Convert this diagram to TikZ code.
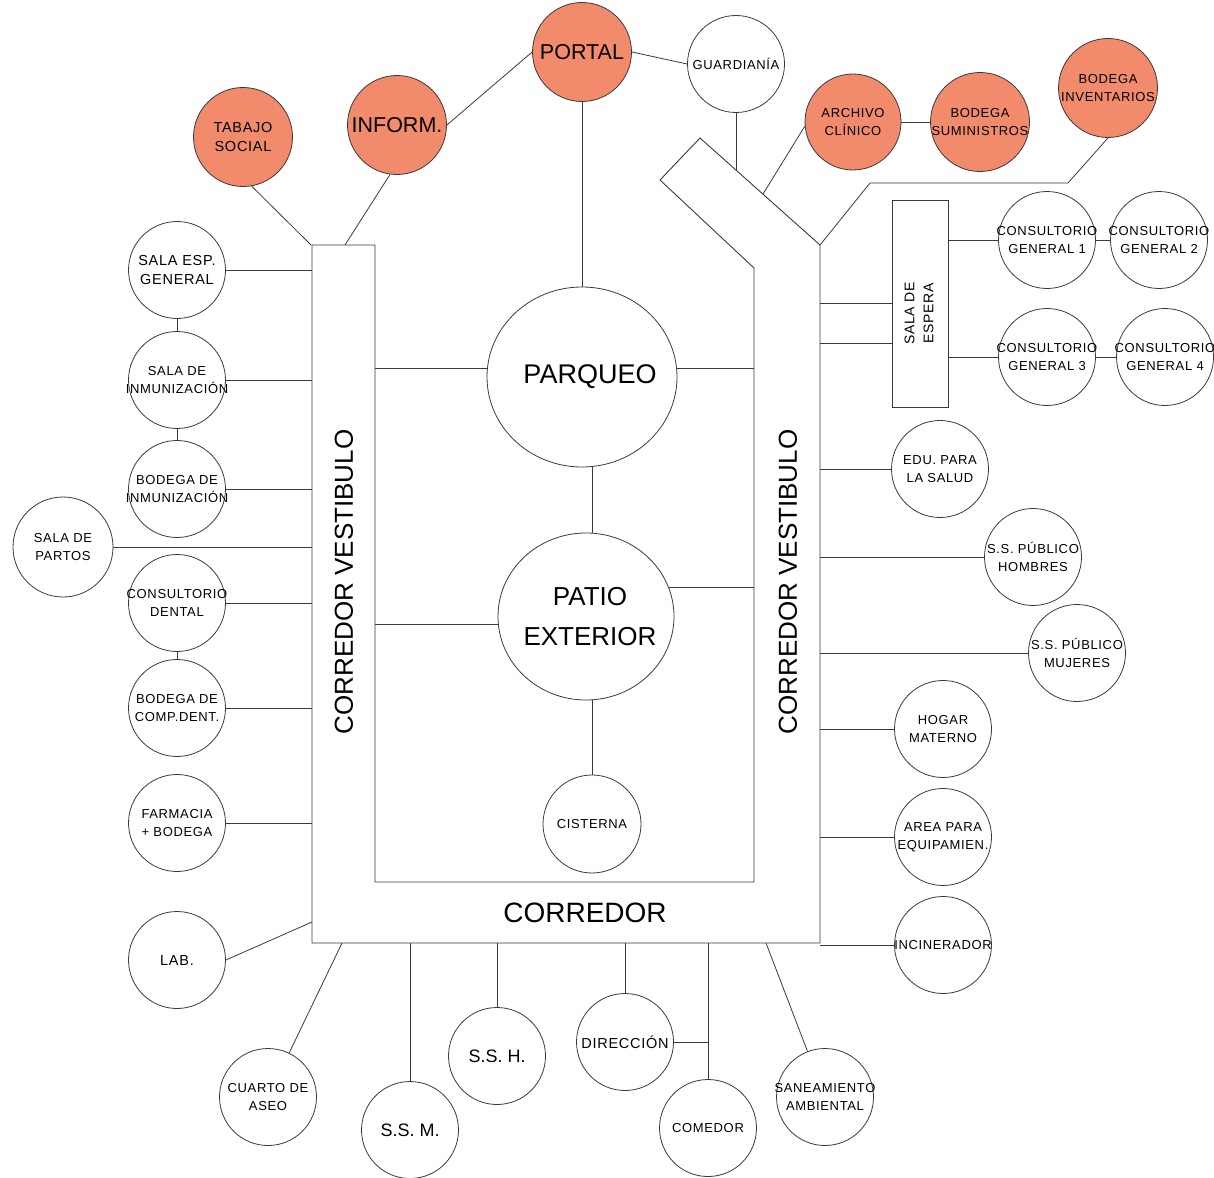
\documentclass[tikz,border=0pt]{standalone}
\usepackage{fontspec}
\setmainfont{Liberation Sans}
\newfontfamily\lsp[LetterSpace=5]{Liberation Sans}
\usetikzlibrary{shapes.geometric}
\definecolor{hot}{HTML}{F28A6C}
\definecolor{ln}{HTML}{3A3A3A}
\newcommand{\fs}{\lsp\fontsize{13}{18}\selectfont}
\newcommand{\fmid}{\lsp\fontsize{14.5}{19}\selectfont}
\newcommand{\fbig}{\fontsize{18}{22}\selectfont}
\newcommand{\fl}{\fontsize{21.5}{24}\selectfont}
\newcommand{\fxl}{\fontsize{26}{40}\selectfont}
\begin{document}
\begin{tikzpicture}[x=1pt,y=-1pt,line width=0.8pt,
  room/.style={circle,draw=ln,minimum size=97pt,inner sep=-30pt,align=center,font=\fs},
  hotroom/.style={room,fill=hot,minimum size=99pt},
  oval/.style={ellipse,draw=ln,inner sep=-40pt,align=center},
  conn/.style={draw=ln,line width=0.8pt},
  wall/.style={draw=ln,line width=0.9pt}]
\useasboundingbox (0,0) rectangle (1214,1177);

% corridor outline
\draw[wall] (312,245) -- (375,245) -- (375,882) -- (754,882) -- (754,268) -- (660,180)
  -- (700,138) -- (820,245) -- (820,943) -- (312,943) -- cycle;
\coordinate (cL) at (312,0);
\coordinate (cLi) at (375,0);
\coordinate (cRi) at (754,0);
\coordinate (cR) at (820,0);
\coordinate (cB) at (0,943);
\coordinate (mid) at (592,0);
\coordinate (tsocE) at (311,245);
\coordinate (infE) at (345,245);
\coordinate (guardE) at (736,170);
\coordinate (archE) at (763,194);
\coordinate (apex) at (820,245);
\coordinate (labE) at (312,922);
\coordinate (cuartoE) at (342,943);
\coordinate (sanE) at (766,943);
\coordinate (e2) at (892,343);

% top
\node[hotroom,font=\fl] (portal) at (582,52) {PORTAL};
\node[hotroom,font=\fl] (inform) at (397,125) {INFORM.};
\node[hotroom,font=\fmid] (tsoc) at (243,137) {TABAJO\\SOCIAL};
\node[room] (guard) at (736,64) {GUARDIANÍA};
\node[hotroom,minimum size=96pt] (arch) at (853,122) {ARCHIVO\\CLÍNICO};
\node[hotroom] (bsum) at (980,122) {BODEGA\\SUMINISTROS};
\node[hotroom] (binv) at (1108,88) {BODEGA\\INVENTARIOS};

% left
\node[room,font=\fmid] (sesp) at (177,270) {SALA ESP.\\GENERAL};
\node[room] (sinm) at (177,380) {SALA DE\\INMUNIZACIÓN};
\node[room] (binm) at (177,489) {BODEGA DE\\INMUNIZACIÓN};
\node[room,minimum size=100pt] (partos) at (63,547) {SALA DE\\PARTOS};
\node[room] (dental) at (177,603) {CONSULTORIO\\DENTAL};
\node[room] (compd) at (177,708) {BODEGA DE\\COMP.DENT.};
\node[room] (farm) at (177,823) {FARMACIA\\+ BODEGA};
\node[room,font=\fmid] (lab) at (177,960) {LAB.};

% bottom
\node[room] (cuarto) at (268,1097) {CUARTO DE\\ASEO};
\node[room,font=\fbig] (ssm) at (410,1130) {S.S. M.};
\node[room,font=\fbig] (ssh) at (497,1056) {S.S. H.};
\node[room,font=\fmid] (dir) at (625,1042) {DIRECCIÓN};
\node[room] (com) at (708,1128) {COMEDOR};
\node[room] (san) at (825,1097) {SANEAMIENTO\\AMBIENTAL};

% right
\node[room] (edu) at (940,469) {EDU. PARA\\LA SALUD};
\node[room] (hom) at (1033,557) {S.S. PÚBLICO\\HOMBRES};
\node[room] (muj) at (1077,653) {S.S. PÚBLICO\\MUJERES};
\node[room] (hogar) at (943,729) {HOGAR\\MATERNO};
\node[room] (area) at (943,837) {AREA PARA\\EQUIPAMIEN.};
\node[room] (incin) at (943,945) {INCINERADOR};
\node[room] (cg1) at (1047,240) {CONSULTORIO\\GENERAL 1};
\node[room] (cg2) at (1159,240) {CONSULTORIO\\GENERAL 2};
\node[room] (cg3) at (1047,357) {CONSULTORIO\\GENERAL 3};
\node[room] (cg4) at (1165,357) {CONSULTORIO\\GENERAL 4};
\node[draw=ln,minimum width=56pt,minimum height=207pt,inner sep=0pt,font=\lsp\fontsize{14}{19}\selectfont] (espera) at (920,303.5)
  {\rotatebox{90}{\begin{tabular}{@{}c@{}}SALA DE\\ESPERA\end{tabular}\hspace*{20pt}}};

% centre
\node[oval,minimum width=190pt,minimum height=180pt,font=\fontsize{27}{40}\selectfont] (parq) at (582,377)
  {\hspace*{16pt}\raisebox{3pt}{PARQUEO}};
\node[oval,minimum width=176pt,minimum height=167pt,font=\fontsize{26}{40}\selectfont] (patio) at (586,616.5)
  {\hspace*{8pt}PATIO\\\hspace*{8pt}EXTERIOR};
\node[room,minimum size=98pt] (cist) at (592,824) {CISTERNA};

% corridor labels
\node[font=\fxl,rotate=90] (cv1) at (344,582) {CORREDOR VESTIBULO};
\node[font=\fxl,rotate=90] (cv2) at (788,582) {CORREDOR VESTIBULO};
\node[font=\fontsize{28}{40}\selectfont] (corr) at (585,913) {CORREDOR};

% connectors: top
\draw[conn] (portal.west) -- (inform.east);
\draw[conn] (portal.east) -- (guard.west);
\draw[conn] (portal.south) -- (portal.south |- parq.north);
\draw[conn] (inform.-98) -- (infE);
\draw[conn] (tsoc.-80) -- (tsocE);
\draw[conn] (guard.south) -- (guardE);
\draw[conn] (arch.185) -- (archE);
\draw[conn] (arch.east) -- (bsum.west);
\draw[conn] (binv.south) -- (1068,183) -- (870,183) -- (apex);

% connectors: left
\foreach \n in {sesp,sinm,binm,partos,dental,compd,farm}
  \draw[conn] (\n) -- (\n -| cL);
\draw[conn] (sesp) -- (sinm);
\draw[conn] (sinm) -- (binm);
\draw[conn] (dental) -- (compd);
\draw[conn] (lab.east) -- (labE);

% connectors: bottom
\draw[conn] (cuarto) -- (cuartoE);
\foreach \n in {ssm,ssh,dir,com}
  \draw[conn] (\n) -- (\n |- cB);
\draw[conn] (dir.east) -- (dir.east -| com);
\draw[conn] (san) -- (sanE);

% connectors: right
\foreach \n in {edu,hom,muj,hogar,area,incin}
  \draw[conn] (\n) -- (\n -| cR);
\draw[conn] (cR |- espera) -- (espera);
\draw[conn] (cR |- e2) -- (e2);
\draw[conn] (espera.east |- cg1) -- (cg1);
\draw[conn] (espera.east |- cg3) -- (cg3);
\draw[conn] (cg1) -- (cg2);
\draw[conn] (cg3) -- (cg4);

% connectors: centre
\draw[conn] (parq.175) -- (parq.175 -| cLi);
\draw[conn] (parq.5) -- (parq.5 -| cRi);
\draw[conn] (mid |- parq.south) -- (mid |- patio.north);
\draw[conn] (patio.185) -- (patio.185 -| cLi);
\draw[conn] (patio.19) -- (patio.19 -| cRi);
\draw[conn] (mid |- patio.south) -- (cist);
\end{tikzpicture}
\end{document}
